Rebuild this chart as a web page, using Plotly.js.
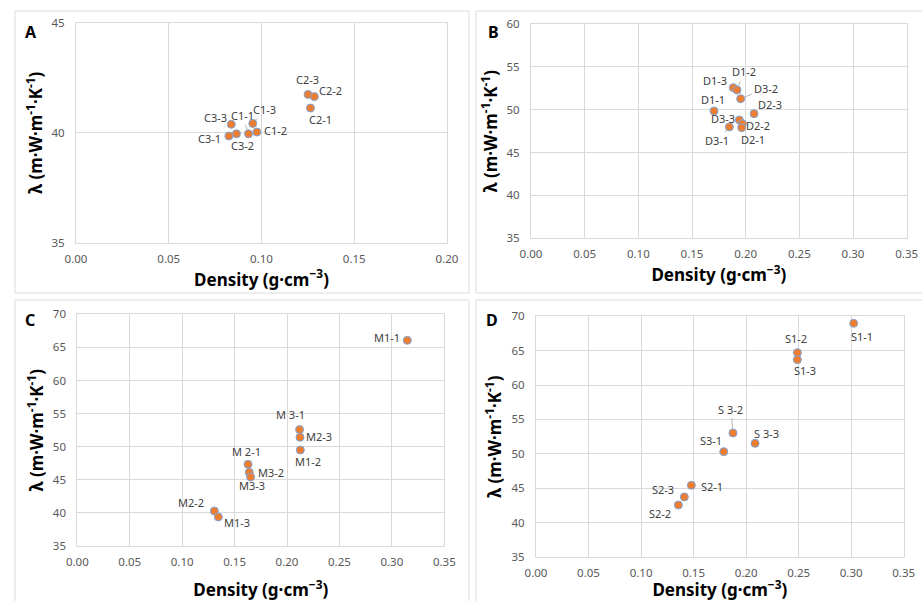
<!DOCTYPE html>
<html>
<head>
<meta charset="utf-8">
<script src="https://cdn.plot.ly/plotly-3.0.1.min.js"></script>
<style>html,body{margin:0;padding:0;background:#fff;}#chart{width:922px;height:601px;}</style>
</head>
<body>
<div id="chart"></div>
<script>
// ---- Data ----
const A_labels  = ["C3-3","C3-1","C3-2","C1-1","C1-3","C1-2","C2-3","C2-2","C2-1"];
const A_density = [0.0837,0.0824,0.0865,0.0930,0.0953,0.0975,0.1251,0.1285,0.1264];
const A_lambda  = [40.38,39.85,39.95,39.95,40.42,40.03,41.74,41.64,41.12];

const B_labels  = ["D1-3","D1-2","D3-2","D1-1","D2-3","D3-3","D2-2","D2-1","D3-1"];
const B_density = [0.1885,0.1919,0.1953,0.1705,0.2078,0.1941,0.1969,0.1963,0.1848];
const B_lambda  = [52.57,52.30,51.29,49.85,49.54,48.80,48.37,47.91,47.99];

const C_labels  = ["M1-1","M 3-1","M2-3","M1-2","M 2-1","M3-2","M3-3","M2-2","M1-3"];
const C_density = [0.3147,0.2120,0.2124,0.2127,0.1628,0.1640,0.1653,0.1307,0.1345];
const C_lambda  = [66.07,52.58,51.42,49.50,47.34,46.13,45.42,40.29,39.38];

const D_labels  = ["S1-1","S1-2","S1-3","S 3-2","S 3-3","S3-1","S2-1","S2-3","S2-2"];
const D_density = [0.3024,0.2488,0.2488,0.1875,0.2085,0.1787,0.1479,0.1412,0.1355];
const D_lambda  = [68.98,64.71,63.70,53.03,51.53,50.32,45.42,43.73,42.56];

const xTickVals_A = [0, 0.05, 0.10, 0.15, 0.20];
const xTickVals_BCD = [0, 0.05, 0.10, 0.15, 0.20, 0.25, 0.30, 0.35];

// ---- Label placement (pixel offsets [dx, dy, leader]) ----
const A_off = [[-16,-7,0],[-19,2,0],[6,12,0],[-6,-18,1],[12,-14,1],[19,-2,0],[-1,-15,0],[16,-6,0],[10,11,0]];
const B_off = [[-18,-7,0],[7,-18,1],[25,-10,1],[-1,-12,0],[16,-9,0],[-16,-2,0],[16,2,0],[11,12,0],[-12,14,1]];
const C_off = [[-20,-3,0],[-9,-15,0],[19,-1,0],[8,11,0],[-2,-13,0],[22,0,0],[1,8,0],[-23,-8,0],[19,5,0]];
const D_off = [[8,13,0],[-1,-14,0],[8,11,0],[-2,-24,1],[11,-10,0],[-13,-11,0],[21,1,0],[-21,-7,0],[-18,8,0]];

const FONT = "Noto Sans, Liberation Sans, sans-serif";
const ORANGE = "#ED7D31";
const EDGE = "#7FA6DA";
const GRID = "#d9d9d9";

function trace(xs, ys, n) {
  return {
    type: "scatter", mode: "markers", x: xs, y: ys,
    xaxis: "x" + (n === 1 ? "" : n), yaxis: "y" + (n === 1 ? "" : n),
    marker: {color: ORANGE, size: 8, line: {color: EDGE, width: 1}},
    hoverinfo: "skip", showlegend: false
  };
}

function labels(names, xs, ys, offs, n) {
  const s = n === 1 ? "" : String(n);
  return names.map((t, i) => {
    const [dx, dy, lead] = offs[i];
    const a = {xref: "x" + s, yref: "y" + s, x: xs[i], y: ys[i], text: t,
      font: {family: FONT, size: 11, color: "#404040"}};
    if (lead) {
      Object.assign(a, {showarrow: true, ax: dx, ay: dy, arrowhead: 0, arrowwidth: 0.8,
        arrowcolor: "#a6a6a6", standoff: 4});
    } else {
      Object.assign(a, {showarrow: false, xshift: dx, yshift: -dy});
    }
    return a;
  });
}

function xax(domain, anchor, range, tv, standoff) {
  return {domain: domain, anchor: anchor, range: range, tickvals: tv,
    ticktext: tv.map(v => v.toFixed(2)),
    showgrid: true, gridcolor: GRID, gridwidth: 1, zeroline: false,
    showline: true, linecolor: GRID, mirror: true,
    ticks: "outside", ticklen: 5, tickcolor: "rgba(0,0,0,0)",
    tickfont: {family: FONT, size: 11.5, color: "#595959"},
    title: {text: "<b>Density (g·cm<sup>−3</sup>)</b>", standoff: standoff,
      font: {family: FONT, size: 17, color: "#000"}}};
}
function yax(domain, anchor, range, dtick, standoff) {
  return {domain: domain, anchor: anchor, range: range, dtick: dtick, tick0: 35,
    showgrid: true, gridcolor: GRID, gridwidth: 1, zeroline: false,
    showline: true, linecolor: GRID, mirror: true,
    ticks: "outside", ticklen: 8, tickcolor: "rgba(0,0,0,0)",
    tickfont: {family: FONT, size: 11.5, color: "#595959"},
    title: {text: "<b>λ (m·W·m<sup>-1</sup>·K<sup>-1</sup>)</b>", standoff: standoff,
      font: {family: FONT, size: 17, color: "#000"}}};
}

const W = 922, H = 601;
const dx = (a, b) => [a / W, b / W];
const dy = (top, bot) => [1 - bot / H, 1 - top / H];

const data = [
  trace(A_density, A_lambda, 1),
  trace(B_density, B_lambda, 2),
  trace(C_density, C_lambda, 3),
  trace(D_density, D_lambda, 4)
];

function box(x0, y0, x1, y1) {
  return {type: "rect", xref: "paper", yref: "paper",
    x0: x0 / W, x1: x1 / W, y0: 1 - y1 / H, y1: 1 - y0 / H,
    line: {color: "#dcdcdc", width: 1}, fillcolor: "rgba(0,0,0,0)", layer: "below"};
}
function letter(t, x, y) {
  return {xref: "paper", yref: "paper", x: x / W, y: 1 - y / H, text: "<b>" + t + "</b>",
    showarrow: false, xanchor: "center", yanchor: "middle",
    font: {family: FONT, size: 16, color: "#000"}};
}

const layout = {
  width: W, height: H, margin: {l: 0, r: 0, t: 0, b: 0},
  paper_bgcolor: "#fff", plot_bgcolor: "#fff", showlegend: false,
  xaxis:  xax(dx(76, 447),  "y",  [0, 0.2],  xTickVals_A, 0),
  yaxis:  yax(dy(22.7, 242.7), "x", [35, 45], 5, 4),
  xaxis2: xax(dx(531, 906.7), "y2", [0, 0.35], xTickVals_BCD, 1),
  yaxis2: yax(dy(24, 238.3), "x2", [35, 60], 5, 4),
  xaxis3: xax(dx(77.3, 444.3), "y3", [0, 0.35], xTickVals_BCD, 20),
  yaxis3: yax(dy(314.3, 546), "x3", [35, 70], 5, 4),
  xaxis4: xax(dx(536, 903.7), "y4", [0, 0.35], xTickVals_BCD, 0),
  yaxis4: yax(dy(316.3, 557), "x4", [35, 70], 5, 5),
  shapes: [box(15, 11, 469, 293), box(476, 11, 930, 293), box(15, 300, 469, 610), box(476, 300, 930, 610)],
  annotations: [].concat(
    labels(A_labels, A_density, A_lambda, A_off, 1),
    labels(B_labels, B_density, B_lambda, B_off, 2),
    labels(C_labels, C_density, C_lambda, C_off, 3),
    labels(D_labels, D_density, D_lambda, D_off, 4),
    [letter("A", 31, 32), letter("B", 493, 32), letter("C", 30, 320), letter("D", 492, 320)]
  )
};

Plotly.newPlot("chart", data, layout, {staticPlot: true, displayModeBar: false});
</script>
</body>
</html>
